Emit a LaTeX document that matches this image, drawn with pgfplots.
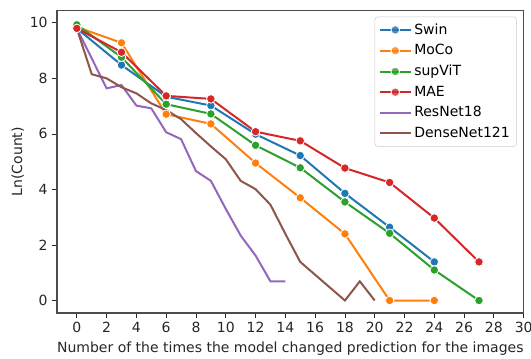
\documentclass[border=0pt]{standalone}
\usepackage{fontspec}
\setmainfont{DejaVu Sans}
\usepackage{pgfplots}
\pgfplotsset{compat=1.18}
\definecolor{cA}{HTML}{1F77B4}
\definecolor{cB}{HTML}{FF7F0E}
\definecolor{cC}{HTML}{2CA02C}
\definecolor{cD}{HTML}{D62728}
\definecolor{cE}{HTML}{9467BD}
\definecolor{cF}{HTML}{8C564B}
\begin{document}
\begin{tikzpicture}
\useasboundingbox (-42.75pt,-33.75pt) rectangle (355.5pt,234.75pt);
\begin{axis}[
  scale only axis, width=350pt, height=227pt,
  xmin=-1.33, xmax=30, ymin=-0.45, ymax=10.45,
  xtick={0,2,...,30}, ytick={0,2,...,10},
  tick align=outside, tick pos=left, major tick length=3.5pt,
  every tick/.style={black!85, line width=0.6pt},
  axis line style={black!70, line width=0.8pt},
  ticklabel style={font=\fontsize{10.5}{12}\selectfont, text=black!85},
  /pgf/number format/assume math mode=true,
  xlabel={Number of the times the model changed prediction for the images},
  ylabel={Ln(Count)},
  ylabel shift=-2.5pt,
  label style={font=\fontsize{10.5}{12}\selectfont, text=black!85},
  every axis plot/.append style={line width=1.5pt},
  mark size=3.2pt,
  legend style={at={(0.985,0.979)}, anchor=north east, draw=black!20, rounded corners=2pt,
    fill=white, fill opacity=0.8, text opacity=1, font=\fontsize{10.5}{12}\selectfont,
    row sep=2.2pt, cells={anchor=west}, inner sep=3pt,
    /tikz/every even column/.append style={column sep=4pt}},
  legend image code/.code={\draw[mark repeat=2,mark phase=2,#1] plot coordinates {(0pt,0pt)(11.5pt,0pt)(23pt,0pt)};},
]
\addplot[cA, mark=*, mark options={draw=white, line width=0.6pt}] coordinates {(0,9.80)(3,8.48)(6,7.34)(9,7.02)(12,5.99)(15,5.22)(18,3.86)(21,2.64)(24,1.39)};
\addlegendentry{Swin}
\addplot[cB, mark=*, mark options={draw=white, line width=0.6pt}] coordinates {(0,9.85)(3,9.28)(6,6.71)(9,6.36)(12,4.95)(15,3.70)(18,2.40)(21,0)(24,0)};
\addlegendentry{MoCo}
\addplot[cC, mark=*, mark options={draw=white, line width=0.6pt}] coordinates {(0,9.93)(3,8.76)(6,7.07)(9,6.72)(12,5.59)(15,4.78)(18,3.55)(21,2.42)(24,1.10)(27,0)};
\addlegendentry{supViT}
\addplot[cD, mark=*, mark options={draw=white, line width=0.6pt}] coordinates {(0,9.80)(3,8.94)(6,7.37)(9,7.26)(12,6.08)(15,5.75)(18,4.77)(21,4.25)(24,2.97)(27,1.39)};
\addlegendentry{MAE}
\addplot[cE, no marks] coordinates {(0,9.80)(1,8.72)(2,7.64)(3,7.76)(4,7.02)(5,6.92)(6,6.06)(7,5.81)(8,4.66)(9,4.31)(10,3.30)(11,2.34)(12,1.62)(13,0.69)(14,0.69)};
\addlegendentry{ResNet18}
\addplot[cF, no marks] coordinates {(0,9.80)(1,8.15)(2,8.00)(3,7.68)(4,7.46)(5,7.10)(6,6.86)(7,6.53)(8,6.03)(9,5.55)(10,5.09)(11,4.31)(12,4.01)(13,3.45)(14,2.40)(15,1.39)(18,0)(19,0.69)(20,0)};
\addlegendentry{DenseNet121}
\end{axis}
\end{tikzpicture}
\end{document}
